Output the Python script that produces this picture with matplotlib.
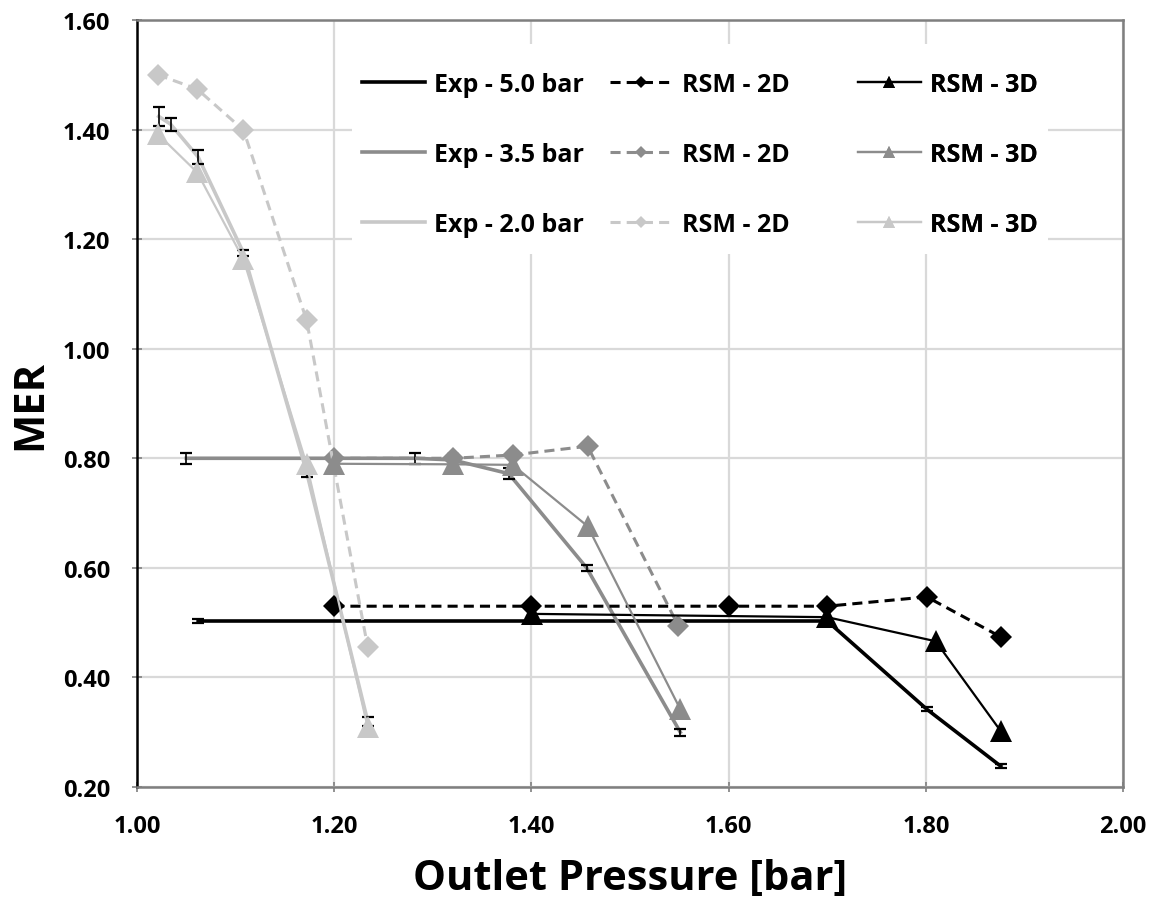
import matplotlib
matplotlib.use("Agg")
import matplotlib.pyplot as plt
from matplotlib.patches import Rectangle

# --- data ---
exp50_x = [1.062, 1.401, 1.70, 1.801, 1.876]
exp50_y = [0.503, 0.503, 0.503, 0.342, 0.238]
exp50_err = [0.004, 0.004, 0.004, 0.004, 0.004]

exp35_x = [1.050, 1.282, 1.32, 1.377, 1.456, 1.551]
exp35_y = [0.800, 0.800, 0.797, 0.772, 0.600, 0.300]
exp35_err = [0.01, 0.01, 0.01, 0.01, 0.006, 0.006]

exp20_x = [1.022, 1.034, 1.062, 1.108, 1.172, 1.234]
exp20_y = [1.424, 1.410, 1.350, 1.175, 0.775, 0.320]
exp20_err = [0.018, 0.012, 0.012, 0.006, 0.01, 0.008]

rsm2d50_x = [1.20, 1.40, 1.60, 1.70, 1.801, 1.876]
rsm2d50_y = [0.530, 0.530, 0.530, 0.530, 0.547, 0.474]

rsm2d35_x = [1.20, 1.32, 1.381, 1.457, 1.549]
rsm2d35_y = [0.800, 0.800, 0.806, 0.822, 0.494]

rsm2d20_x = [1.021, 1.061, 1.108, 1.172, 1.234]
rsm2d20_y = [1.500, 1.474, 1.399, 1.052, 0.455]

rsm3d50_x = [1.401, 1.70, 1.810, 1.876]
rsm3d50_y = [0.516, 0.510, 0.466, 0.302]

rsm3d35_x = [1.20, 1.32, 1.381, 1.457, 1.551]
rsm3d35_y = [0.790, 0.789, 0.788, 0.676, 0.342]

rsm3d20_x = [1.021, 1.061, 1.108, 1.172, 1.234]
rsm3d20_y = [1.392, 1.322, 1.163, 0.789, 0.309]

BLACK = "#000000"
MID = "#8c8c8c"
LIGHT = "#c8c8c8"

fam = ["Open Sans", "DejaVu Sans"]

fig = plt.figure(figsize=(11.59, 9.04), dpi=100)
ax = fig.add_axes([137 / 1159, 1 - 788 / 904, (1123 - 137) / 1159, (788 - 21) / 904])

exp_h, rsm2_h, rsm3_h = [], [], []
# experimental lines
for xs, ys, err, col, lab in [(exp50_x, exp50_y, exp50_err, BLACK, "Exp - 5.0 bar"),
                              (exp35_x, exp35_y, exp35_err, MID, "Exp - 3.5 bar"),
                              (exp20_x, exp20_y, exp20_err, LIGHT, "Exp - 2.0 bar")]:
    h, = ax.plot(xs, ys, color=col, lw=2.6, label=lab, zorder=3)
    ax.errorbar(xs, ys, yerr=err, fmt="none", ecolor="black", elinewidth=1.2,
                capsize=4, capthick=1.6, zorder=3.5)
    exp_h.append(h)

# RSM 2D
for xs, ys, col in [(rsm2d50_x, rsm2d50_y, BLACK), (rsm2d35_x, rsm2d35_y, MID),
                    (rsm2d20_x, rsm2d20_y, LIGHT)]:
    h, = ax.plot(xs, ys, color=col, lw=2.2, ls=(0, (3.3, 2.0)), marker="D", ms=11,
                 markeredgewidth=0, label="RSM - 2D", zorder=4)
    rsm2_h.append(h)

# RSM 3D
for xs, ys, col in [(rsm3d50_x, rsm3d50_y, BLACK), (rsm3d35_x, rsm3d35_y, MID),
                    (rsm3d20_x, rsm3d20_y, LIGHT)]:
    h, = ax.plot(xs, ys, color=col, lw=1.6, marker="^", ms=16,
                 markeredgewidth=0, label="RSM - 3D", zorder=5)
    rsm3_h.append(h)

ax.set_xlim(1.0, 2.0)
ax.set_ylim(0.2, 1.6)
ax.set_xticks([1.0, 1.2, 1.4, 1.6, 1.8, 2.0])
ax.set_yticks([0.2, 0.4, 0.6, 0.8, 1.0, 1.2, 1.4, 1.6])
ax.set_xticklabels(["%.2f" % v for v in ax.get_xticks()])
ax.set_yticklabels(["%.2f" % v for v in ax.get_yticks()])
for lbl in ax.get_xticklabels() + ax.get_yticklabels():
    lbl.set_fontfamily(fam)
    lbl.set_fontweight("bold")
    lbl.set_fontsize(17)

ax.grid(True, color="#d9d9d9", lw=1.6, zorder=0)
ax.set_axisbelow(True)
ax.tick_params(axis="both", direction="inout", length=7, width=1.2, color="#7f7f7f", pad=16)

ax.spines["left"].set_color("black")
ax.spines["left"].set_linewidth(1.8)
for s in ["bottom", "top", "right"]:
    ax.spines[s].set_color("#7f7f7f")
    ax.spines[s].set_linewidth(1.8)

ax.set_xlabel("Outlet Pressure [bar]", fontsize=30, fontweight="bold", family=fam, labelpad=14)
ax.set_ylabel("MER", fontsize=30, fontweight="bold", family=fam, labelpad=8)

# white box behind the legend block
ax.add_patch(Rectangle(((352 - 137) / 986, (788 - 255) / 767), (1048 - 352) / 986, 210 / 767,
                       transform=ax.transAxes, facecolor="white", edgecolor="none", zorder=6))

# three legend columns, placed like the original
top = (788 - 73) / 767
for hs, xpx in [(exp_h, 362), (rsm2_h, 610), (rsm3_h, 858)]:
    leg = ax.legend(handles=hs, loc="upper left", bbox_to_anchor=((xpx - 137) / 986, top),
                    prop={"family": fam, "weight": "bold", "size": 18},
                    frameon=False, handlelength=2.5, handletextpad=0.4,
                    labelspacing=1.8, markerscale=0.55, borderpad=0, borderaxespad=0)
    leg.set_zorder(10)
    ax.add_artist(leg)

fig.savefig("out.png", dpi=100)
